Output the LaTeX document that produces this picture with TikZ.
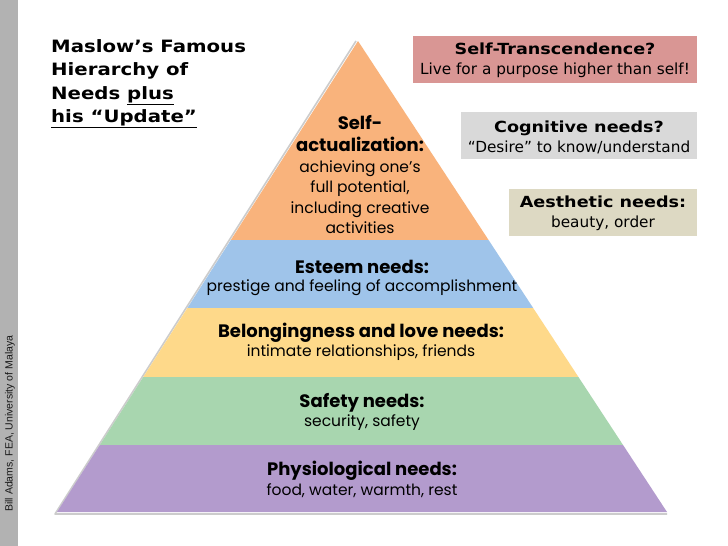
\documentclass[tikz,border=0pt]{standalone}
\usepackage{fontspec}
\setmainfont{DejaVu Sans}
\newfontfamily\verd{DejaVu Sans}
\newfontfamily\arial{Liberation Sans}
\newfontfamily\pyr{Poppins}
\newcommand{\vwide}[1]{\scalebox{1.16}[1]{#1}}
\newcommand{\bwide}[1]{\scalebox{1.15}[1]{#1}}
\definecolor{stripgrey}{HTML}{B2B2B2}
\definecolor{lvlorange}{HTML}{F9B37C}
\definecolor{lvlblue}{HTML}{9FC4EA}
\definecolor{lvlyellow}{HTML}{FED98A}
\definecolor{lvlgreen}{HTML}{A8D6AF}
\definecolor{lvlpurple}{HTML}{B39BCD}
\definecolor{boxpink}{HTML}{D99694}
\definecolor{boxgrey}{HTML}{D9D9D9}
\definecolor{boxbeige}{HTML}{DDD9C3}
\tikzset{
  boxtext/.style={align=center, inner sep=0pt, font=\verd\fontsize{15.3}{20}\selectfont},
  lvltitle/.style={align=center, inner sep=0pt, text=black, font=\pyr\bfseries\fontsize{18}{22}\selectfont},
  lvldesc/.style={align=center, inner sep=0pt, text=black, font=\pyr\fontsize{15.5}{20.5}\selectfont},
}
\begin{document}
\begin{tikzpicture}[x=1pt,y=-1pt]
\useasboundingbox (0,0) rectangle (728,546);
\fill[white] (0,0) rectangle (728,546);
% left strip
\fill[stripgrey] (0,0) rectangle (18,546);
\node[rotate=90, anchor=west, inner sep=0pt, font=\arial\fontsize{10.5}{12}\selectfont, text=black!90] (author) at (10,512) {Bill Adams, FEA, University of Malaya};
% title
\node[anchor=north west, align=left, inner sep=0pt, font=\verd\bfseries\fontsize{17}{23.5}\selectfont] (title) at (51,39)
  {\vwide{Maslow’s Famous}\\\vwide{Hierarchy of}\\\vwide{Needs \underline{plus}}\\\vwide{\underline{his “Update”}}};
% pyramid shadow outline
\draw[black!20, line width=1.6pt, line join=round] (356,41) -- (55,514) -- (667,514);
% pyramid
\coordinate (apex) at (358,41);
\coordinate (bl) at (57,512);
\coordinate (br) at (667,512);
\begin{scope}
  \clip (apex) -- (bl) -- (br) -- cycle;
  \fill[lvlorange] (40,30) rectangle (690,240);
  \fill[lvlblue] (40,240) rectangle (690,308);
  \fill[lvlyellow] (40,308) rectangle (690,377);
  \fill[lvlgreen] (40,377) rectangle (690,445);
  \fill[lvlpurple] (40,445) rectangle (690,513);
\end{scope}
% level texts
\node[lvltitle] (selfT) at (360,134) {Self-\\actualization:};
\node[lvldesc] (selfD) at (360,197) {achieving one’s\\full potential,\\including creative\\activities};
\node[lvltitle] (esteemT) at (362,267) {Esteem needs:};
\node[lvldesc] (esteemD) at (362,288) {prestige and feeling of accomplishment};
\node[lvltitle] (belongT) at (361,333) {Belongingness and love needs:};
\node[lvldesc] (belongD) at (361,353) {intimate relationships, friends};
\node[lvltitle] (safetyT) at (362,403) {Safety needs:};
\node[lvldesc] (safetyD) at (362,423) {security, safety};
\node[lvltitle] (physioT) at (362,471) {Physiological needs:};
\node[lvldesc] (physioD) at (362,491) {food, water, warmth, rest};
% side boxes
\fill[boxpink] (413,36) rectangle (697,83);
\node[boxtext] (transc) at (555,60.5) {\textbf{\bwide{Self-Transcendence?}}\\Live for a purpose higher than self!};
\fill[boxgrey] (461,112) rectangle (697,159);
\node[boxtext] (cogn) at (579,137) {\textbf{\bwide{Cognitive needs?}}\\“Desire” to know/understand};
\fill[boxbeige] (509,189) rectangle (697,236);
\node[boxtext] (aesth) at (603,213) {\textbf{\bwide{Aesthetic needs:}}\\beauty, order};
\end{tikzpicture}
\end{document}
